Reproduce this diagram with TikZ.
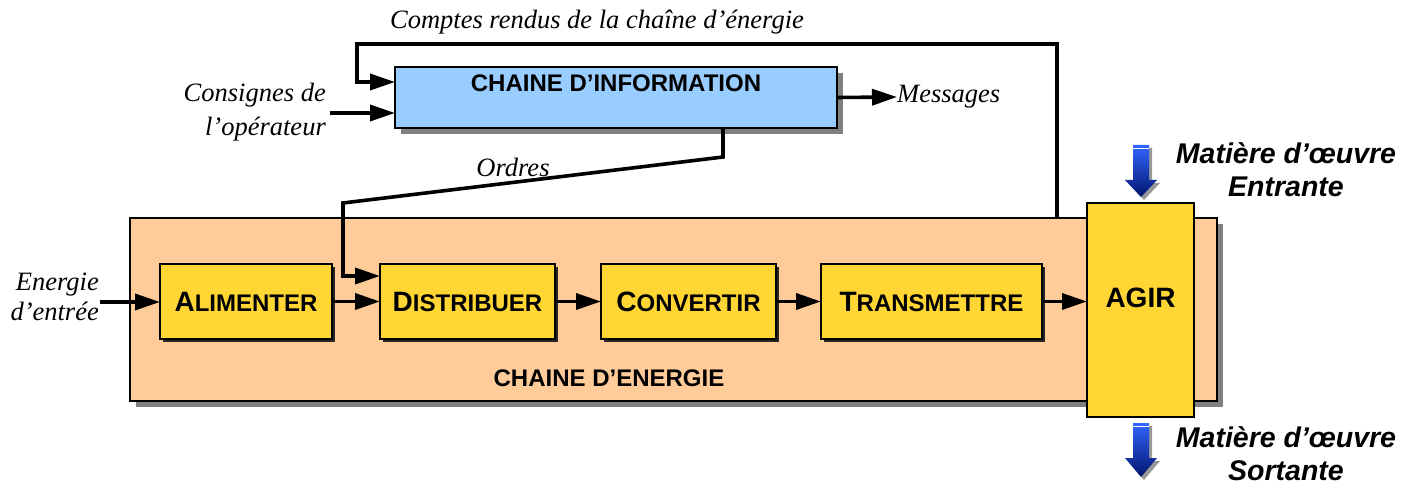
\documentclass[tikz,border=0pt]{standalone}
\usepackage{fontspec}
\setmainfont{Liberation Serif}
\newfontfamily\arialf{Liberation Sans}
\usetikzlibrary{arrows.meta,shadows}
\definecolor{infoblue}{RGB}{153,204,255}
\definecolor{enerorange}{RGB}{255,204,153}
\definecolor{boxyellow}{RGB}{255,214,51}
\definecolor{arrlight}{RGB}{51,102,255}
\definecolor{arrdark}{RGB}{0,20,110}
\newcommand\capsfirst[2]{{\fontsize{28}{28}\selectfont #1}{\fontsize{24}{24}\selectfont #2}}
\begin{document}
\begin{tikzpicture}[x=1pt,y=-1pt,
  bigbox/.style={draw=black, line width=1.8pt, inner sep=0pt, outer sep=0pt,
    general shadow={shadow xshift=6pt, shadow yshift=-6pt, fill=black!50}},
  fnbox/.style={draw=black, line width=1.8pt, inner sep=0pt, outer sep=0pt, fill=boxyellow,
    minimum height=75pt, font=\arialf\bfseries,
    general shadow={shadow xshift=3pt, shadow yshift=-3pt, fill=black!85}},
  flow/.style={line width=3.6pt, -{Triangle[length=25pt,width=16pt]}},
  itlabel/.style={font=\fontsize{26.5}{34}\selectfont\itshape, inner sep=0pt},
  boldlabel/.style={font=\arialf\bfseries\fontsize{24}{28}\selectfont, inner sep=0pt},
  matlabel/.style={font=\arialf\bfseries\itshape\fontsize{28.5}{33}\selectfont, inner sep=0pt, align=center},
  bluearrow/.style={top color=arrlight, bottom color=arrdark},
  arrshadow/.style={fill=black!40}
]
\useasboundingbox (0,0) rectangle (1416,486);

% energy chain box
\node[bigbox, fill=enerorange, minimum width=1087pt, minimum height=183pt] (ener) at (673.5,309.5) {};
\node[boldlabel] (enertitle) at (609,378) {CHAINE D’ENERGIE};

% information chain box
\node[bigbox, fill=infoblue, minimum width=442pt, minimum height=61pt] (info) at (616,97.5) {};
\node[boldlabel] (infotitle) at (616,83) {CHAINE D’INFORMATION};

% function boxes
\node[fnbox, minimum width=172pt] (ali) at (246,301.5) {\capsfirst{A}{LIMENTER}};
\node[fnbox, minimum width=175pt] (dis) at (467.5,301.5) {\capsfirst{D}{ISTRIBUER}};
\node[fnbox, minimum width=175pt] (con) at (688.5,301.5) {\capsfirst{C}{ONVERTIR}};
\node[fnbox, minimum width=221pt] (tra) at (931.5,301.5) {\capsfirst{T}{RANSMETTRE}};

% AGIR box
\node[draw=black, line width=1.8pt, fill=boxyellow, inner sep=0pt, outer sep=0pt,
  minimum width=107pt, minimum height=214pt] (agir) at (1140.5,310) {};
\node[font=\arialf\bfseries\fontsize{28}{28}\selectfont, inner sep=0pt] (agirtxt) at (1140.5,298) {AGIR};

% labels
\node[itlabel] (cr) at (597,22) {Comptes rendus de la chaîne d’énergie};
\node[itlabel, align=right, anchor=east] (cons) at (326,112.5) {Consignes de\\l’opérateur};
\node[itlabel, anchor=west] (msg) at (897,97) {Messages};
\node[itlabel] (ord) at (513,167) {Ordres};
\node[itlabel, align=right, anchor=east, font=\fontsize{26.5}{30}\selectfont\itshape] (ein) at (99,297) {Energie\\d’entrée};
\node[matlabel] (matin) at (1286,170) {Matière d’œuvre\\Entrante};
\node[matlabel] (matout) at (1286,454) {Matière d’œuvre\\Sortante};

% coordinates
\coordinate (fbx) at (1057,44);
\coordinate (fbl) at (357,82);
\coordinate (consin) at (330,113);
\coordinate (o1) at (723,157);
\coordinate (o2) at (343,203);
\coordinate (o3) at (343,276);
\coordinate (ensrc) at (100,302);

% connectors
\draw[flow] (fbx |- ener.north) -- (fbx) -| (fbl) -- (fbl -| info.west);
\draw[flow] (consin) -- (consin -| info.west);
\draw[flow] (info.east) -- (msg.west);
\draw[flow] (info.south -| o1) -- (o1) -- (o2) -- (o3) -- (o3 -| dis.west);
\draw[flow] (ensrc) -- (ensrc -| ali.west);
\draw[flow] (ali.east) -- (dis.west);
\draw[flow] (dis.east) -- (con.west);
\draw[flow] (con.east) -- (tra.west);
\draw[flow] (tra.east) -- (tra.east -| agir.west);

% blue material arrows
\fill[arrshadow] (1136,148) -- (1152,148) -- (1152,183) -- (1160,183) -- (1144,200) -- (1128,183) -- (1136,183) -- cycle;
\shade[bluearrow] (1133,145) -- (1149,145) -- (1149,180) -- (1157,180) -- (1141,197) -- (1125,180) -- (1133,180) -- cycle;
\draw[white, line width=0.8pt] (1133,148.5) -- (1149,148.5);
\fill[arrshadow] (1136,426) -- (1152,426) -- (1152,461) -- (1160,461) -- (1144,480) -- (1128,461) -- (1136,461) -- cycle;
\shade[bluearrow] (1133,423) -- (1149,423) -- (1149,458) -- (1157,458) -- (1141,477) -- (1125,458) -- (1133,458) -- cycle;
\draw[white, line width=0.8pt] (1133,426.5) -- (1149,426.5);
\end{tikzpicture}
\end{document}
